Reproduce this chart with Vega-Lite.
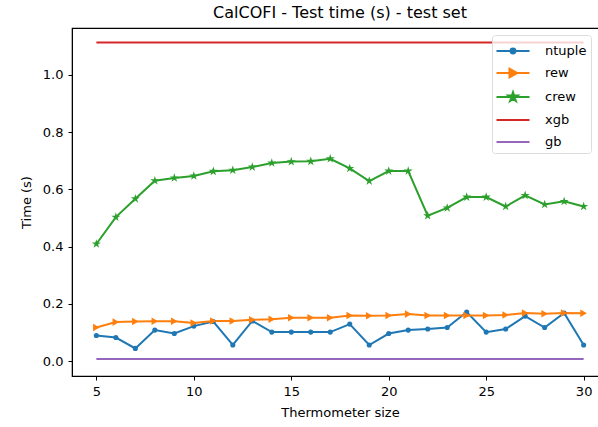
{
  "$schema": "https://vega.github.io/schema/vega-lite/v6.json",
  "width": 536,
  "height": 348,
  "autosize": {"type": "none"},
  "padding": {"left": 72, "top": 28, "right": 0, "bottom": 51},
  "background": "white",
  "title": {"text": "CalCOFI - Test time (s) - test set", "font": "DejaVu Sans", "fontSize": 16, "fontWeight": "normal", "color": "#000000", "anchor": "middle", "offset": 7},
  "config": {
    "view": {"stroke": "#000000", "strokeWidth": 1.2},
    "axis": {"grid": false, "domainColor": "#000000", "tickColor": "#000000", "labelColor": "#000000", "titleColor": "#000000", "labelFont": "DejaVu Sans", "titleFont": "DejaVu Sans", "labelFontSize": 13, "titleFontSize": 13, "titleFontWeight": "normal", "tickSize": 4, "labelPadding": 5}
  },
  "data": {"values": [
    {"size": 5, "ntuple": 0.089, "rew": 0.117, "crew": 0.409, "xgb": 1.113, "gb": 0.007},
    {"size": 6, "ntuple": 0.082, "rew": 0.136, "crew": 0.503, "xgb": 1.113, "gb": 0.007},
    {"size": 7, "ntuple": 0.044, "rew": 0.138, "crew": 0.567, "xgb": 1.113, "gb": 0.007},
    {"size": 8, "ntuple": 0.108, "rew": 0.139, "crew": 0.630, "xgb": 1.113, "gb": 0.007},
    {"size": 9, "ntuple": 0.096, "rew": 0.139, "crew": 0.640, "xgb": 1.113, "gb": 0.007},
    {"size": 10, "ntuple": 0.122, "rew": 0.133, "crew": 0.647, "xgb": 1.113, "gb": 0.007},
    {"size": 11, "ntuple": 0.138, "rew": 0.140, "crew": 0.663, "xgb": 1.113, "gb": 0.007},
    {"size": 12, "ntuple": 0.056, "rew": 0.140, "crew": 0.667, "xgb": 1.113, "gb": 0.007},
    {"size": 13, "ntuple": 0.140, "rew": 0.144, "crew": 0.678, "xgb": 1.113, "gb": 0.007},
    {"size": 14, "ntuple": 0.101, "rew": 0.146, "crew": 0.692, "xgb": 1.113, "gb": 0.007},
    {"size": 15, "ntuple": 0.101, "rew": 0.151, "crew": 0.697, "xgb": 1.113, "gb": 0.007},
    {"size": 16, "ntuple": 0.101, "rew": 0.151, "crew": 0.698, "xgb": 1.113, "gb": 0.007},
    {"size": 17, "ntuple": 0.101, "rew": 0.151, "crew": 0.707, "xgb": 1.113, "gb": 0.007},
    {"size": 18, "ntuple": 0.129, "rew": 0.159, "crew": 0.673, "xgb": 1.113, "gb": 0.007},
    {"size": 19, "ntuple": 0.056, "rew": 0.158, "crew": 0.629, "xgb": 1.113, "gb": 0.007},
    {"size": 20, "ntuple": 0.096, "rew": 0.159, "crew": 0.664, "xgb": 1.113, "gb": 0.007},
    {"size": 21, "ntuple": 0.108, "rew": 0.164, "crew": 0.664, "xgb": 1.113, "gb": 0.007},
    {"size": 22, "ntuple": 0.112, "rew": 0.159, "crew": 0.508, "xgb": 1.113, "gb": 0.007},
    {"size": 23, "ntuple": 0.117, "rew": 0.159, "crew": 0.535, "xgb": 1.113, "gb": 0.007},
    {"size": 24, "ntuple": 0.171, "rew": 0.159, "crew": 0.573, "xgb": 1.113, "gb": 0.007},
    {"size": 25, "ntuple": 0.101, "rew": 0.159, "crew": 0.573, "xgb": 1.113, "gb": 0.007},
    {"size": 26, "ntuple": 0.112, "rew": 0.161, "crew": 0.540, "xgb": 1.113, "gb": 0.007},
    {"size": 27, "ntuple": 0.157, "rew": 0.168, "crew": 0.579, "xgb": 1.113, "gb": 0.007},
    {"size": 28, "ntuple": 0.117, "rew": 0.165, "crew": 0.547, "xgb": 1.113, "gb": 0.007},
    {"size": 29, "ntuple": 0.168, "rew": 0.168, "crew": 0.558, "xgb": 1.113, "gb": 0.007},
    {"size": 30, "ntuple": 0.056, "rew": 0.167, "crew": 0.540, "xgb": 1.113, "gb": 0.007}
  ]},
  "transform": [{"fold": ["ntuple", "rew", "crew", "xgb", "gb"], "as": ["series", "time"]}],
  "layer": [
    {
      "mark": {"type": "line", "strokeWidth": 2, "clip": true},
      "encoding": {
        "x": {"field": "size", "type": "quantitative", "scale": {"domain": [3.75, 31.25], "nice": false, "zero": false}, "axis": {"values": [5, 10, 15, 20, 25, 30], "title": "Thermometer size", "titlePadding": 8}},
        "y": {"field": "time", "type": "quantitative", "scale": {"domain": [-0.0524, 1.164], "nice": false, "zero": false}, "axis": {"values": [0, 0.2, 0.4, 0.6, 0.8, 1.0], "format": ".1f", "title": "Time (s)", "titlePadding": 9}},
        "color": {
          "field": "series", "type": "nominal",
          "scale": {"domain": ["ntuple", "rew", "crew", "xgb", "gb"], "range": ["#1f77b4", "#ff7f0e", "#2ca02c", "#d62728", "#9467bd"]},
          "legend": {
            "orient": "none", "legendX": 420, "legendY": 7, "title": null,
            "labelFont": "DejaVu Sans", "labelFontSize": 13, "labelColor": "#000000",
            "symbolSize": 484, "symbolOffset": 5, "labelOffset": 20, "rowPadding": 3,
            "padding": 4, "fillColor": "rgba(255,255,255,0.8)", "strokeColor": "#dddddd", "cornerRadius": 3,
            "encode": {"symbols": {"update": {
              "shape": {"signal": "datum.value === 'ntuple' ? 'M-1.5,0H1.5M-0.22,0A0.22,0.22 0 1,0 0.22,0A0.22,0.22 0 1,0 -0.22,0Z' : datum.value === 'rew' ? 'M-1.5,0H1.5M0.4,0L-0.32,-0.4L-0.32,0.4Z' : datum.value === 'crew' ? 'M-1.5,0H1.5M0,-0.44L0.099,-0.136L0.418,-0.136L0.160,0.052L0.259,0.356L0,0.168L-0.259,0.356L-0.160,0.052L-0.418,-0.136L-0.099,-0.136Z' : 'M-1.5,0H1.5'"},
              "fill": {"scale": "color", "field": "value"},
              "stroke": {"scale": "color", "field": "value"},
              "strokeWidth": {"value": 2},
              "opacity": {"value": 1},
              "fillOpacity": {"value": 1},
              "strokeOpacity": {"value": 1}
            }}}
          }
        }
      }
    },
    {
      "transform": [{"filter": {"field": "series", "oneOf": ["ntuple", "rew", "crew"]}}],
      "mark": {"type": "point", "filled": true, "opacity": 1, "clip": true},
      "encoding": {
        "x": {"field": "size", "type": "quantitative"},
        "y": {"field": "time", "type": "quantitative"},
        "color": {"field": "series", "type": "nominal"},
        "shape": {"field": "series", "type": "nominal", "scale": {"domain": ["ntuple", "rew", "crew"], "range": ["circle", "triangle-right", "M0,-1L0.225,-0.309L0.951,-0.309L0.363,0.118L0.588,0.809L0,0.382L-0.588,0.809L-0.363,0.118L-0.951,-0.309L-0.225,-0.309Z"]}, "legend": null},
        "size": {"field": "series", "type": "nominal", "scale": {"domain": ["ntuple", "rew", "crew"], "range": [26, 90, 145]}, "legend": null}
      }
    }
  ]
}
